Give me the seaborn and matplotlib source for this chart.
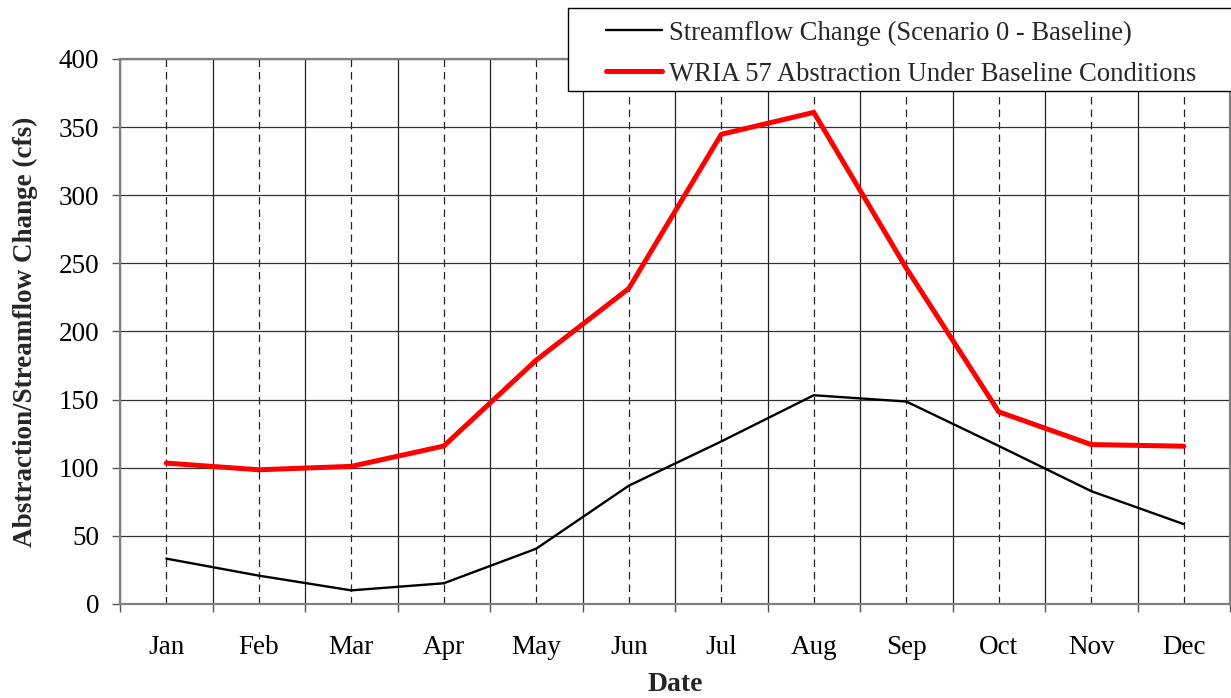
import matplotlib
matplotlib.use("Agg")
import matplotlib.pyplot as plt
import matplotlib.patches as mpatches
import numpy as np
import pandas as pd
import seaborn as sns

months = ["Jan", "Feb", "Mar", "Apr", "May", "Jun",
          "Jul", "Aug", "Sep", "Oct", "Nov", "Dec"]
streamflow_change = [33.3, 20.8, 10.0, 15.2, 40.6, 86.8,
                     119.3, 153.2, 148.6, 116.0, 82.8, 58.6]
wria57_abstraction = [103.4, 98.5, 101.0, 115.9, 179.0, 231.5,
                      344.7, 360.8, 246.5, 141.0, 117.0, 115.8]
y_ticks = [0, 50, 100, 150, 200, 250, 300, 350, 400]

label_flow = "Streamflow Change (Scenario 0 - Baseline)"
label_wria = "WRIA 57 Abstraction Under Baseline Conditions"


def main():
    sns.set_theme(style="white")
    plt.rcParams['font.family'] = ['Liberation Serif', 'DejaVu Serif']

    df = pd.DataFrame({"month": months,
                       "flow": streamflow_change,
                       "wria": wria57_abstraction})

    fig = plt.figure(figsize=(12.31, 6.98), dpi=100)
    ax = fig.add_axes([0.0975, 0.1347, 0.9017, 0.7808])

    sns.lineplot(x="month", y="flow", data=df, ax=ax, color="black",
                 linewidth=1.7, label=label_flow, zorder=4)
    sns.lineplot(x="month", y="wria", data=df, ax=ax, color="#ff0000",
                 linewidth=3.6, label=label_wria, zorder=4)

    ax.set_xlim(-0.5, 11.5)
    ax.set_ylim(0, 400)
    ax.set_yticks(y_ticks)
    ax.set_xticks(range(len(months)))
    ax.set_xticklabels(months)
    ax.set_xticks(np.arange(-0.5, 12, 1), minor=True)

    ax.tick_params(axis="x", which="major", length=0, pad=22,
                   labelsize=19.5, labelcolor="black")
    ax.tick_params(axis="x", which="minor", length=6, width=1,
                   color="#555555", direction="out", bottom=True)
    ax.tick_params(axis="y", which="major", length=6, width=1,
                   color="#555555", direction="out", left=True, pad=9,
                   labelsize=19.5, labelcolor="black")

    ax.grid(which="minor", axis="x", color="#222222", linewidth=0.9)
    ax.grid(which="major", axis="x", color="#222222", linewidth=0.9,
            linestyle=(0, (6, 4)))
    ax.grid(which="major", axis="y", color="#333333", linewidth=0.9)
    ax.set_axisbelow(True)

    for side in ["left", "bottom", "top", "right"]:
        ax.spines[side].set_color("#808080")
        ax.spines[side].set_linewidth(1.6)
        ax.spines[side].set_visible(True)

    ax.set_xlabel("Date", fontsize=20, fontweight="bold", labelpad=9)
    ax.set_ylabel("Abstraction/Streamflow Change (cfs)", fontsize=19.5,
                  fontweight="bold", labelpad=15)

    # legend box sits over the top edge of the plot
    box = mpatches.Rectangle((0.4614, 0.8696), 0.6, 0.1189,
                             transform=fig.transFigure, facecolor="white",
                             edgecolor="black", linewidth=1.0,
                             clip_on=False, zorder=10)
    ax.add_patch(box)
    leg = ax.legend(loc="center left", bbox_to_anchor=(0.4817, 0.9233),
                    bbox_transform=fig.transFigure, frameon=False,
                    borderpad=0, fontsize=19.2, handlelength=2.1,
                    handletextpad=0.26, labelspacing=0.6)
    leg.set_zorder(11)

    plt.savefig("out.png", dpi=100)
    plt.close()


if __name__ == '__main__':
    main()
